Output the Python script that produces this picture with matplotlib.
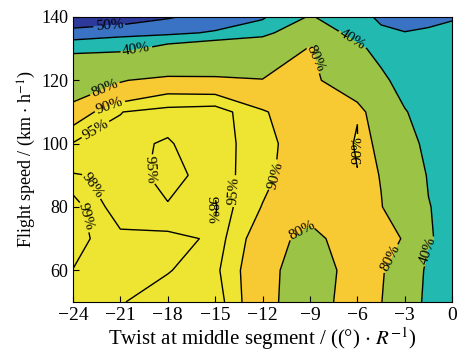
import matplotlib
matplotlib.use('Agg')
import matplotlib.pyplot as plt
import numpy as np

plt.rcParams['font.family'] = ['Liberation Serif', 'DejaVu Serif']
plt.rcParams['mathtext.fontset'] = 'stix'

# grid of the surface (twist, speed)
twist = [-24, -21, -18, -15, -12, -9, -6, -4.5, -3, -1.5, 0]
speed = [50, 60, 70, 80, 90, 100, 110, 120, 130, 135, 140]

# one list per twist column, values from bottom (50) to top (140)
col_m24 = [98.7, 98.98, 99.4, 99.5, 98.2, 95.3, 86, 67, 35, 26, 6]
col_m21 = [98.2, 98.6, 98.3, 97.3, 97.5, 96, 94.9, 79, 35.7, 28, 12]
col_m18 = [96.5, 98.2, 98.8, 95.35, 93.3, 94.6, 96.7, 85, 45, 28, 19]
col_m15 = [97.7, 96.15, 97.6, 98.3, 97.25, 97.7, 97.5, 84, 50, 31, 24]
col_m12 = [84.1, 84.6, 86, 89.7, 92, 91.6, 90.7, 81, 55, 35, 29]
col_m9 = [72, 72.2, 75.9, 85, 84.6, 86.8, 85, 87, 82, 55, 41]
col_m6 = [88, 85.9, 88, 88, 89.9, 90.3, 89.8, 58, 44, 32.5, 32]
col_m45 = [81, 83, 85, 81, 79, 74, 62, 44, 34, 31, 29]
col_m3 = [55, 62, 79, 65, 60, 48, 41, 33, 32, 30.3, 26]
col_m15b = [34, 34.5, 42, 41, 38, 35, 33, 32, 32, 31, 28]
col_0 = [33, 33, 33, 32, 32, 32, 32, 32, 32, 31.5, 29.5]

levels = [20, 40, 80, 90, 95, 98, 99]
level_text = {20: '50%', 40: '40%', 80: '80%', 90: '90%',
              95: '95%', 98: '98%', 99: '99%'}
fill_levels = [0, 20, 30, 40, 80, 90, 100]
fill_colors = ['#2d3a9b', '#3a73c4', '#21b9b0', '#9bc447', '#f7c932', '#eee532']

# label spots (twist, speed)
label_pos = [(-21.7, 137.2), (-20, 130.2), (-22, 117.6), (-21.7, 112.3),
             (-22.5, 103.8), (-19.3, 91.8), (-22.9, 86.5), (-23.1, 77),
             (-15.1, 79.2), (-13.7, 85), (-11.0, 89.6), (-6.0, 98),
             (-8.7, 127), (-6.3, 133), (-9.4, 72), (-4.0, 64),
             (-1.4, 66)]

Z = np.array([col_m24, col_m21, col_m18, col_m15, col_m12, col_m9, col_m6,
              col_m45, col_m3, col_m15b, col_0]).T
X, Y = np.meshgrid(twist, speed)

fig = plt.figure(figsize=(4.59, 3.54), dpi=100)
ax = fig.add_axes([0.159, 0.147, 0.826, 0.805])

ax.contourf(X, Y, Z, levels=fill_levels, colors=fill_colors)
ax.contour(X, Y, Z, levels=[30], colors='black', linewidths=1.0)
cs = ax.contour(X, Y, Z, levels=levels, colors='black', linewidths=1.0)
ax.clabel(cs, fmt=level_text, manual=label_pos, inline=True,
          inline_spacing=2, fontsize=11)

ax.set_xlim(-24, 0)
ax.set_ylim(50, 140)
ax.set_xticks(range(-24, 1, 3))
ax.set_yticks(range(60, 141, 20))
ax.tick_params(direction='in', length=4)
ax.tick_params(axis='x', labelsize=14)
ax.tick_params(axis='y', labelsize=13)
ax.set_xlabel(r'Twist at middle segment / ((°) $\cdot$ $R^{-1}$)', fontsize=15, labelpad=1)
ax.set_ylabel(r'Flight speed / (km $\cdot$ h$^{-1}$)', fontsize=13, labelpad=2)

plt.savefig('out.png', dpi=100)
